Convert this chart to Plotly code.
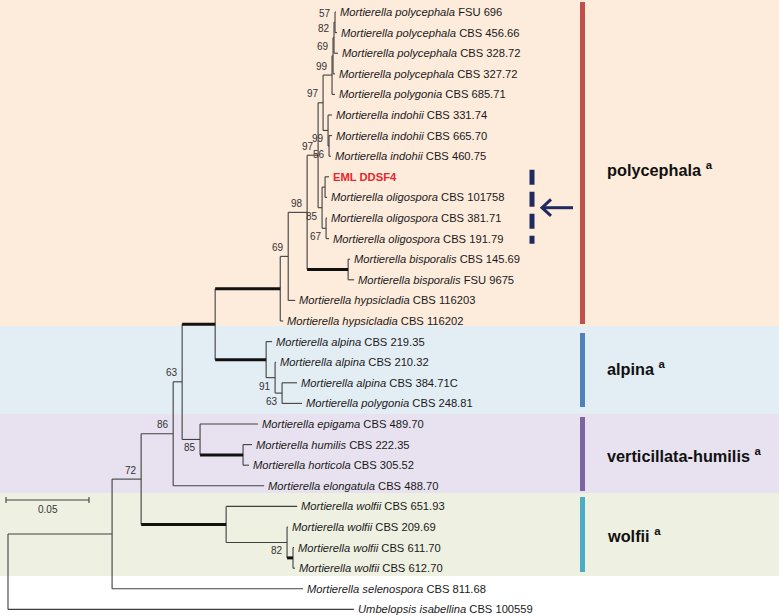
import plotly.graph_objects as go

# ---------------- data ----------------
LEAF_SPECIES = [
    "Mortierella polycephala", "Mortierella polycephala", "Mortierella polycephala",
    "Mortierella polycephala", "Mortierella polygonia", "Mortierella indohii",
    "Mortierella indohii", "Mortierella indohii", "", "Mortierella oligospora",
    "Mortierella oligospora", "Mortierella oligospora", "Mortierella bisporalis",
    "Mortierella bisporalis", "Mortierella hypsicladia", "Mortierella hypsicladia",
    "Mortierella alpina", "Mortierella alpina", "Mortierella alpina",
    "Mortierella polygonia", "Mortierella epigama", "Mortierella humilis",
    "Mortierella horticola", "Mortierella elongatula", "Mortierella wolfii",
    "Mortierella wolfii", "Mortierella wolfii", "Mortierella wolfii",
    "Mortierella selenospora", "Umbelopsis isabellina",
]
LEAF_STRAIN = [
    "FSU 696", "CBS 456.66", "CBS 328.72", "CBS 327.72", "CBS 685.71",
    "CBS 331.74", "CBS 665.70", "CBS 460.75", "EML DDSF4", "CBS 101758",
    "CBS 381.71", "CBS 191.79", "CBS 145.69", "FSU 9675", "CBS 116203",
    "CBS 116202", "CBS 219.35", "CBS 210.32", "CBS 384.71C", "CBS 248.81",
    "CBS 489.70", "CBS 222.35", "CBS 305.52", "CBS 488.70", "CBS 651.93",
    "CBS 209.69", "CBS 611.70", "CBS 612.70", "CBS 811.68", "CBS 100559",
]
LEAF_PARENT = [
    "P1", "P1", "P2", "P3", "N333", "IND", "I2", "I2", "O1", "O1",
    "O2", "O2", "BIS", "BIS", "N288", "N280", "N266", "N275", "N282", "N282",
    "N200", "N243", "N243", "N173", "N226", "N287", "N293", "N293", "N112", "ROOT",
]
LEAF_BRANCH = [
    0.0006, 0.0012, 0.0024, 0.0012, 0.0018, 0.0024, 0.0018, 0.0012, 0.0024, 0.0012,
    0.0006, 0.0018, 0.0012, 0.0036, 0.0042, 0.0018, 0.0036, 0.0006, 0.0090, 0.0120,
    0.0349, 0.0054, 0.0036, 0.0548, 0.0428, 0.0006, 0.0006, 0.0012, 0.1151, 0.2084,
]
HIGHLIGHT_LEAF = "EML DDSF4"

# internal nodes (parents listed before children)
NODE_IDS = ["ROOT", "N112", "N141", "N173", "N182", "N215", "N280", "N288", "N307",
            "N318", "N323", "N333", "P3", "P2", "P1", "IND", "I2", "OLI", "O1", "O2",
            "BIS", "N266", "N275", "N282", "N200", "N243", "N226", "N287", "N293"]
NODE_PARENT = [None, "ROOT", "N112", "N141", "N173", "N182", "N215", "N280", "N288",
               "N307", "N318", "N323", "N333", "P3", "P2", "N323", "IND", "N318", "OLI", "OLI",
               "N307", "N215", "N266", "N275", "N182", "N200", "N141", "N226", "N287"]
NODE_BRANCH = [0.0, 0.0627, 0.0175, 0.0193, 0.0054, 0.0199, 0.0392, 0.0048, 0.0114,
               0.0066, 0.0030, 0.0054, 0.0006, 0.0006, 0.0006, 0.0030, 0.0006, 0.0024, 0.0018, 0.0024,
               0.0247, 0.0307, 0.0054, 0.0042, 0.0108, 0.0259, 0.0512, 0.0367, 0.0036]
NODE_SUPPORT = [None, None, 72, 86, 63, None, None, 69, 98,
                97, 97, 99, 69, 82, 57, 99, 56, 85, None, 67,
                None, None, 91, 63, 85, None, None, 82, None]
THICK_NODES = ["N215", "N280", "BIS", "N266", "N243", "N226", "N293"]
SUPPORT_BELOW = ["IND", "I2", "OLI", "O2", "N275", "N282", "N200", "N287"]

CLADE_NAMES = ["polycephala", "alpina", "verticillata-humilis", "wolfii"]
SCALE_LENGTH = 0.05

# ---------------- layout helpers ----------------
W, H = 779, 615
ROOT_PX, PX_PER_UNIT = 8.0, 1660.0
TOP_PX, ROW_PX = 12.0, 20.6


def xd(px):
    return (px - ROOT_PX) / PX_PER_UNIT


def yd(py):
    return (py - TOP_PX) / ROW_PX


FONT = "Liberation Sans, Arial, Helvetica, sans-serif"
LINE_COL = "#404040"
NAVY = "#1f2b5e"

# ---------------- tree geometry ----------------
children = {n: [] for n in NODE_IDS}
parent = {}
branch = {}
for n, p, b in zip(NODE_IDS, NODE_PARENT, NODE_BRANCH):
    parent[n] = p
    branch[n] = b
    if p is not None:
        children[p].append(n)
leaf_ids = []
for i, (p, b) in enumerate(zip(LEAF_PARENT, LEAF_BRANCH)):
    lid = "L%d" % i
    leaf_ids.append(lid)
    parent[lid] = p
    branch[lid] = b
    children[p].append(lid)

depth = {}
for n in NODE_IDS:
    depth[n] = 0.0 if parent[n] is None else depth[parent[n]] + branch[n]
for lid in leaf_ids:
    depth[lid] = depth[parent[lid]] + branch[lid]

ypos = {lid: float(i) for i, lid in enumerate(leaf_ids)}


def get_y(n):
    if n in ypos:
        return ypos[n]
    cy = [get_y(c) for c in children[n]]
    ypos[n] = (min(cy) + max(cy)) / 2.0
    return ypos[n]


get_y("ROOT")

thin_x, thin_y, thick_x, thick_y = [], [], [], []
for n in NODE_IDS[1:] + leaf_ids:
    p = parent[n]
    tx, ty = (thick_x, thick_y) if n in THICK_NODES else (thin_x, thin_y)
    tx += [depth[p], depth[n], None]
    ty += [ypos[n], ypos[n], None]
for n in NODE_IDS:
    cy = [ypos[c] for c in children[n]]
    thin_x += [depth[n], depth[n], None]
    thin_y += [min(cy), max(cy), None]

fig = go.Figure()
fig.add_trace(go.Scatter(x=thin_x, y=thin_y, mode="lines",
                         line=dict(color=LINE_COL, width=1.1), hoverinfo="skip",
                         showlegend=False))
fig.add_trace(go.Scatter(x=thick_x, y=thick_y, mode="lines",
                         line=dict(color="#111111", width=3), hoverinfo="skip",
                         showlegend=False))

annotations = []
# leaf labels
for i, lid in enumerate(leaf_ids):
    sp, st = LEAF_SPECIES[i], LEAF_STRAIN[i]
    if st == HIGHLIGHT_LEAF:
        txt = "<b>%s</b>" % st
        col = "#e8262b"
    else:
        txt = "<i>%s</i> %s" % (sp, st)
        col = "#1a1a1a"
    annotations.append(dict(x=depth[lid], y=ypos[lid], text=txt, showarrow=False,
                            xanchor="left", yanchor="middle", xshift=2,
                            font=dict(family=FONT, size=11.2, color=col)))
# support values
for n, s in zip(NODE_IDS, NODE_SUPPORT):
    if s is None:
        continue
    below = n in SUPPORT_BELOW
    annotations.append(dict(x=depth[n], y=ypos[n], text=str(s), showarrow=False,
                            xanchor="right", yanchor="middle", xshift=-2,
                            yshift=-8.5 if below else 9,
                            font=dict(family=FONT, size=10, color="#333333")))

shapes = []
# clade background bands
BAND_EDGES_PX = [0, 326, 414, 493, 576]
BAND_COLORS = ["#fdebdc", "#e3eef4", "#e8e2f0", "#eef0e1"]
for k in range(4):
    shapes.append(dict(type="rect", xref="paper", x0=0, x1=1, yref="y",
                       y0=yd(BAND_EDGES_PX[k]), y1=yd(BAND_EDGES_PX[k + 1]),
                       fillcolor=BAND_COLORS[k], line=dict(width=0), layer="below"))
# clade bars and names
BAR_PX = [(2, 324), (333, 407), (417, 491), (497, 572)]
BAR_COLORS = ["#c0504d", "#4f81bd", "#8064a2", "#4bacc6"]
NAME_Y_PX = [169, 368, 455, 535]
for k in range(4):
    shapes.append(dict(type="rect", xref="x", x0=xd(580), x1=xd(585), yref="y",
                       y0=yd(BAR_PX[k][0]), y1=yd(BAR_PX[k][1]),
                       fillcolor=BAR_COLORS[k], line=dict(width=0)))
    annotations.append(dict(x=xd(605), y=yd(NAME_Y_PX[k]), showarrow=False,
                            xanchor="left", yanchor="middle",
                            text="<b>%s <sup>a</sup></b>" % CLADE_NAMES[k],
                            font=dict(family=FONT, size=16.3, color="#111111")))

# dashed marker next to the new isolate and its closest relatives
i0 = LEAF_STRAIN.index(HIGHLIGHT_LEAF)
shapes.append(dict(type="line", xref="x", yref="y", x0=xd(532), x1=xd(532),
                   y0=ypos[leaf_ids[i0]] - 0.34, y1=ypos[leaf_ids[i0 + 3]] + 0.25,
                   line=dict(color=NAVY, width=5, dash="15px,7px")))
ymid = (ypos[leaf_ids[i0]] + ypos[leaf_ids[i0 + 3]]) / 2.0
fig.add_trace(go.Scatter(x=[xd(573), xd(542), None, xd(551), xd(542), xd(551)],
                         y=[ymid, ymid, None, ymid - 0.4, ymid, ymid + 0.4],
                         mode="lines", line=dict(color=NAVY, width=3),
                         hoverinfo="skip", showlegend=False))

# scale bar
sb_x0 = xd(6)
sb_y = yd(500)
fig.add_trace(go.Scatter(x=[sb_x0, sb_x0 + SCALE_LENGTH, None, sb_x0, sb_x0, None,
                            sb_x0 + SCALE_LENGTH, sb_x0 + SCALE_LENGTH],
                         y=[sb_y, sb_y, None, sb_y - 0.15, sb_y + 0.15, None,
                            sb_y - 0.15, sb_y + 0.15],
                         mode="lines", line=dict(color=LINE_COL, width=1.1),
                         hoverinfo="skip", showlegend=False))
annotations.append(dict(x=sb_x0 + SCALE_LENGTH / 2, y=sb_y, yshift=-9, showarrow=False,
                        text=str(SCALE_LENGTH), xanchor="center", yanchor="middle",
                        font=dict(family=FONT, size=10, color="#333333")))

fig.update_layout(
    width=W, height=H, margin=dict(l=0, r=0, t=0, b=0),
    paper_bgcolor="white", plot_bgcolor="white",
    xaxis=dict(range=[xd(0), xd(W)], visible=False, fixedrange=True),
    yaxis=dict(range=[yd(H), yd(0)], visible=False, fixedrange=True),
    shapes=shapes, annotations=annotations, showlegend=False,
)
fig.write_html("out.html", config={"displayModeBar": False},
               post_script="document.body.style.margin='0';document.body.style.overflow='hidden';")
